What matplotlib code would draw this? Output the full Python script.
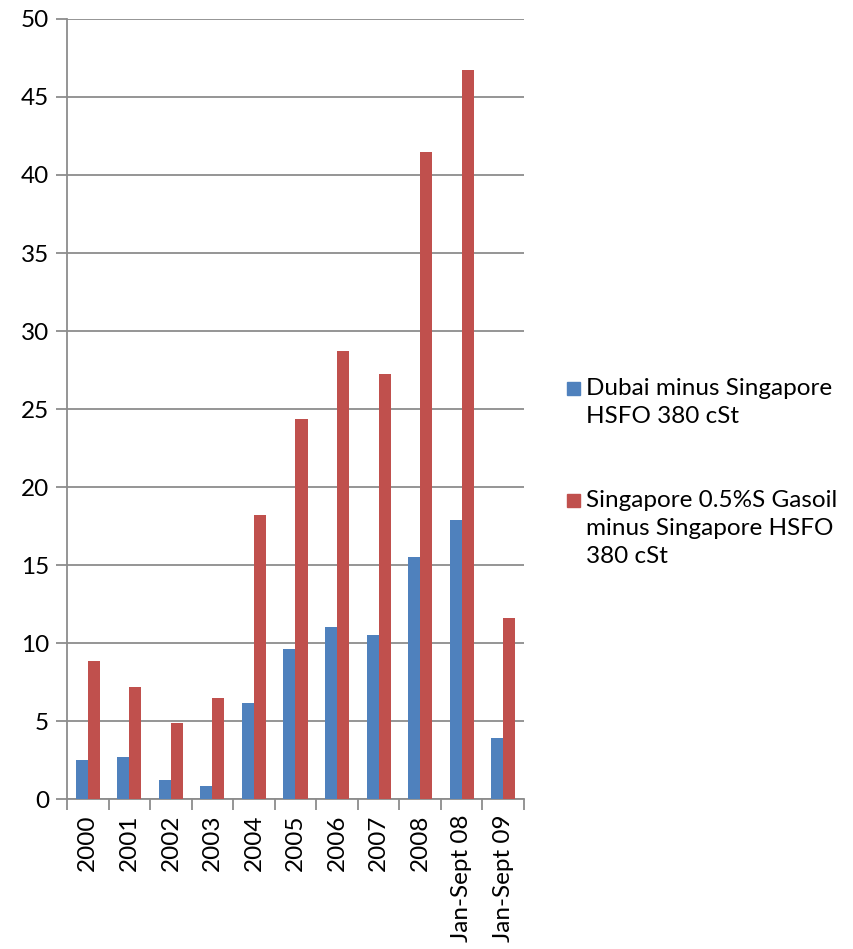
import numpy as np
import matplotlib.pyplot as plt
from matplotlib.patches import Rectangle

# Data
categories = ["2000", "2001", "2002", "2003", "2004", "2005", "2006",
              "2007", "2008", "Jan-Sept 08", "Jan-Sept 09"]
dubai = [2.5, 2.7, 1.2, 0.85, 6.15, 9.6, 11.0, 10.5, 15.5, 17.9, 3.9]
gasoil = [8.85, 7.2, 4.85, 6.5, 18.2, 24.35, 28.7, 27.25, 41.5, 46.7, 11.6]
series_names = ["Dubai minus Singapore\nHSFO 380 cSt",
                "Singapore 0.5%S Gasoil\nminus Singapore HSFO\n380 cSt"]
colors = ["#4F81BD", "#C0504D"]

plt.rcParams["font.family"] = ["Lato", "DejaVu Sans"]
fs = 17.5

fig = plt.figure(figsize=(8.54, 9.49), dpi=100)
ax = fig.add_axes([0.0785, 0.158, 0.535, 0.822])

x = np.arange(len(categories))
w = 0.29
ax.bar(x - w / 2, dubai, w, color=colors[0], zorder=3)
ax.bar(x + w / 2, gasoil, w, color=colors[1], zorder=3)

ax.set_xlim(-0.5, len(categories) - 0.5)
ax.set_ylim(0, 50)
ax.set_yticks(np.arange(0, 51, 5))
ax.yaxis.grid(True, color="#8c8c8c", linewidth=1.3, zorder=0)

# category labels centred, tick marks between categories
ax.set_xticks(x)
ax.set_xticklabels(categories, rotation=90, fontsize=fs)
ax.set_xticks(np.arange(-0.5, len(categories)), minor=True)
ax.tick_params(axis="x", which="major", length=0, pad=11)
ax.tick_params(axis="x", which="minor", length=8, width=1.3, color="#8c8c8c")
ax.tick_params(axis="y", length=8, width=1.3, color="#8c8c8c",
               labelsize=fs, pad=5)

for s in ["top", "right"]:
    ax.spines[s].set_visible(False)
for s in ["left", "bottom"]:
    ax.spines[s].set_color("#8c8c8c")
    ax.spines[s].set_linewidth(1.3)

# Legend
square_y = [1 - 388 / 949, 1 - 500 / 949]
text_top = [0.6015, 0.4835]
for name, c, sy, ty in zip(series_names, colors, square_y, text_top):
    fig.patches.append(Rectangle((0.664, sy - 0.007), 0.0152, 0.0137,
                                 transform=fig.transFigure, color=c))
    fig.text(0.686, ty, name, fontsize=fs, va="top",
             ha="left", linespacing=1.42,
             transform=fig.transFigure)

fig.savefig("out.png", dpi=100)
